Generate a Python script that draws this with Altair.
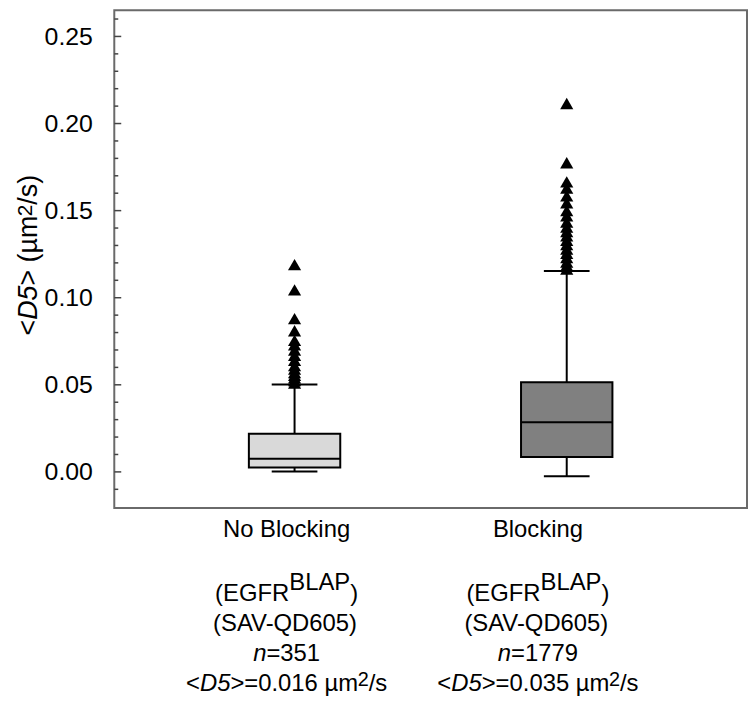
import altair as alt
import pandas as pd

# ---------------- data ----------------
groups = ["No Blocking", "Blocking"]
fills = ["#d9d9d9", "#808080"]
q1 = [0.0025, 0.0086]
median = [0.0076, 0.0285]
q3 = [0.0219, 0.0514]
whisk_lo = [0.0002, -0.0025]
whisk_hi = [0.0502, 0.1153]

outliers_no_blocking = [0.119, 0.1045, 0.088, 0.081, 0.0755, 0.073, 0.070, 0.067,
                        0.064, 0.061, 0.059, 0.057, 0.0555, 0.054, 0.0525, 0.051]
outliers_blocking = [0.2115, 0.1775, 0.1665, 0.163, 0.1585, 0.1545, 0.150, 0.147,
                     0.1435, 0.1405, 0.138, 0.1355, 0.133, 0.1305, 0.128, 0.1255,
                     0.123, 0.1205, 0.1185, 0.1165]

n_obs = ["351", "1779"]
mean_d5 = ["0.016", "0.035"]

major_ticks = [0.00, 0.05, 0.10, 0.15, 0.20, 0.25]
minor_ticks = [-0.01, 0.01, 0.02, 0.03, 0.04, 0.06, 0.07, 0.08, 0.09, 0.11, 0.12,
               0.13, 0.14, 0.16, 0.17, 0.18, 0.19, 0.21, 0.22, 0.23, 0.24, 0.26]

# ---------------- layout ----------------
FONT = "Liberation Sans"
W, H = 637, 501
Y_DOMAIN = [-0.0207, 0.2650]
text_center_offset = [-8, -29]

CW = {" ": 278, "(": 333, ")": 333, "<": 584, ">": 584, "=": 584, "-": 333, "/": 278,
      ".": 278, "A": 667, "B": 667, "D": 722, "E": 667, "F": 611, "G": 778, "L": 556,
      "P": 667, "Q": 778, "R": 722, "S": 667, "V": 667, "N": 722, "a": 556, "b": 556,
      "c": 500, "g": 556, "i": 222, "k": 500, "l": 222, "m": 833, "n": 556, "o": 556,
      "s": 500, "µ": 556}


def tw(s, size):
    return sum(CW.get(c, 556) for c in s) * size / 1000.0


x_scale = alt.Scale(type="point", domain=groups, padding=0.6624)
x_enc = alt.X("group:N", scale=x_scale, axis=None)
y_scale = alt.Scale(domain=Y_DOMAIN, nice=False, zero=False)
y_axis = alt.Axis(values=major_ticks, format=".2f", labelFontSize=25, labelFont=FONT,
                  labelColor="black", ticks=False, domain=False, grid=False,
                  labelPadding=22, title="")

stats = pd.DataFrame({"group": groups, "q1": q1, "median": median, "q3": q3,
                      "lo": whisk_lo, "hi": whisk_hi})

out_df = pd.DataFrame({
    "group": [groups[0]] * len(outliers_no_blocking) + [groups[1]] * len(outliers_blocking),
    "value": outliers_no_blocking + outliers_blocking,
})

base = alt.Chart(stats)

whisker_up = base.mark_rule(color="black", strokeWidth=2).encode(
    x=x_enc, y=alt.Y("q3:Q", scale=y_scale, axis=y_axis), y2="hi:Q")
whisker_dn = base.mark_rule(color="black", strokeWidth=2).encode(
    x=x_enc, y=alt.Y("lo:Q", scale=y_scale, axis=y_axis), y2="q1:Q")
cap_hi = base.mark_tick(color="black", size=46, thickness=2, orient="horizontal", opacity=1).encode(
    x=x_enc, y=alt.Y("hi:Q", scale=y_scale, axis=y_axis))
cap_lo = base.mark_tick(color="black", size=46, thickness=2, orient="horizontal", opacity=1).encode(
    x=x_enc, y=alt.Y("lo:Q", scale=y_scale, axis=y_axis))
box = base.mark_bar(size=92, stroke="black", strokeWidth=2, opacity=1).encode(
    x=x_enc, y=alt.Y("q1:Q", scale=y_scale, axis=y_axis), y2="q3:Q",
    color=alt.Color("group:N", scale=alt.Scale(domain=groups, range=fills), legend=None))
med = base.mark_tick(color="black", size=92, thickness=2, orient="horizontal", opacity=1).encode(
    x=x_enc, y=alt.Y("median:Q", scale=y_scale, axis=y_axis))

pts = alt.Chart(out_df).mark_point(shape="triangle-up", filled=True, color="black",
                                   size=175, opacity=1).encode(
    x=x_enc, y=alt.Y("value:Q", scale=y_scale, axis=y_axis))

maj = alt.Chart(pd.DataFrame({"v": major_ticks})).mark_rule(color="#444444", strokeWidth=1.5).encode(
    y=alt.Y("v:Q", scale=y_scale, axis=y_axis), x=alt.value(0), x2=alt.value(7))
mino = alt.Chart(pd.DataFrame({"v": minor_ticks})).mark_rule(color="#444444", strokeWidth=1.5).encode(
    y=alt.Y("v:Q", scale=y_scale, axis=y_axis), x=alt.value(0), x2=alt.value(4))

layers = [mino, maj, whisker_up, whisker_dn, cap_hi, cap_lo, box, med, pts]

# ---------------- y-axis title (rotated, mixed styles) ----------------
TS = 27
title_pieces = [("<", "normal", TS, 0), ("D5", "italic", TS, 0), ("> (µm", "normal", TS, 0),
                ("2", "normal", 21, 5), ("/s)", "normal", TS, 0)]
title_len = sum(tw(p[0], p[2]) for p in title_pieces)
y_start = 246.5 + title_len / 2.0
cum = 0.0
for txt, style, size, rise in title_pieces:
    layers.append(
        alt.Chart(pd.DataFrame({"t": [txt]})).mark_text(
            angle=270, align="left", baseline="alphabetic", font=FONT, fontSize=size,
            fontStyle=style, color="black").encode(
            x=alt.value(-78 - rise), y=alt.value(y_start - cum), text="t:N"))
    cum += tw(txt, size)

# ---------------- category labels below the plot ----------------
FS = 24
for gi, g in enumerate(groups):
    lines = [
        (530, [(g, "normal", FS, 0)]),
        (595, [("(EGFR", "normal", FS, 0), ("BLAP", "normal", FS, 11), (")", "normal", FS, 0)]),
        (625, [("(SAV-QD605)", "normal", FS, 0)]),
        (655, [("n", "italic", FS, 0), ("=" + n_obs[gi], "normal", FS, 0)]),
        (685, [("<", "normal", FS, 0), ("D5", "italic", FS, 0),
               (">=" + mean_d5[gi] + " µm", "normal", FS, 0), ("2", "normal", 20, 5),
               ("/s", "normal", FS, 0)]),
    ]
    for base_y, pieces in lines:
        total = sum(tw(p[0], p[2]) for p in pieces)
        start = text_center_offset[gi] - total / 2.0
        cum = 0.0
        for txt, style, size, rise in pieces:
            layers.append(
                alt.Chart(pd.DataFrame({"group": [g], "t": [txt]})).mark_text(
                    align="left", baseline="alphabetic", font=FONT, fontSize=size,
                    fontStyle=style, color="black", dx=start + cum).encode(
                    x=x_enc, y=alt.value(base_y - rise), text="t:N"))
            cum += tw(txt, size)

chart = alt.layer(*layers).properties(
    width=W, height=H,
    background="white",
    autosize=alt.AutoSizeParams(type="none"),
    padding={"left": 107, "top": 0, "right": 1, "bottom": 189},
).configure_view(stroke="#6a6a6a", strokeWidth=2)

chart.save("out.html", embed_options={"renderer": "svg", "actions": False})
